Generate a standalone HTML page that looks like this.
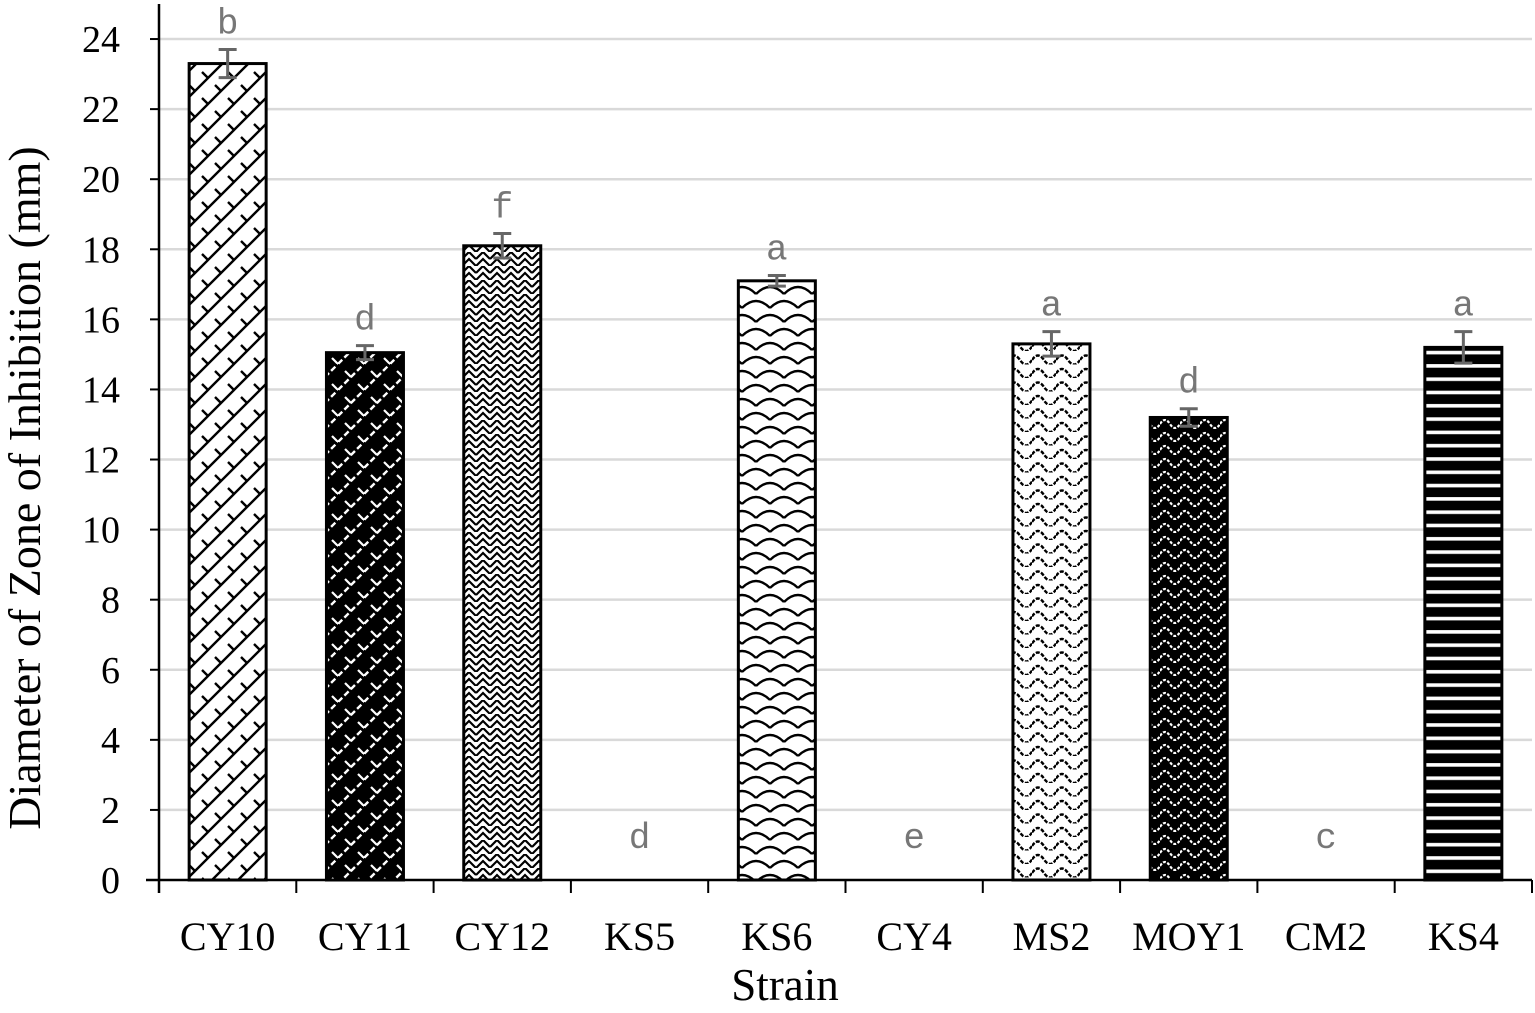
<!DOCTYPE html>
<html><head><meta charset="utf-8"><style>
html,body{margin:0;padding:0;background:#fff;}
svg{display:block;}
</style></head><body>
<svg id="chart" width="1535" height="1013" viewBox="0 0 1535 1013" xmlns="http://www.w3.org/2000/svg">
<defs>
<pattern id="p0" patternUnits="userSpaceOnUse" width="26" height="26">
<rect width="26" height="26" fill="#fff"/>
<path d="M0 26 L26 0 M-6 6 L6 -6 M20 32 L32 20" stroke="#000" stroke-width="2.4"/>
<path d="M7 7 L13 13 M20 20 L26 26" stroke="#000" stroke-width="2.4"/>
</pattern>
<pattern id="p1" patternUnits="userSpaceOnUse" width="26" height="26">
<rect width="26" height="26" fill="#000"/>
<path d="M0 26 L26 0 M-6 6 L6 -6 M20 32 L32 20" stroke="#fff" stroke-width="2.4" stroke-dasharray="6 3"/>
<path d="M7 7 L13 13 M20 20 L26 26" stroke="#fff" stroke-width="2.2"/>
</pattern>
<pattern id="p2" patternUnits="userSpaceOnUse" width="14" height="14">
<rect width="14" height="14" fill="#fff"/>
<path d="M0 7 L7 0 L14 7 M0 14 L7 7 L14 14" stroke="#000" stroke-width="2.2" fill="none"/>
</pattern>
<pattern id="p4" patternUnits="userSpaceOnUse" width="28" height="28">
<rect width="28" height="28" fill="#fff"/>
<path d="M0 14 Q14 0 28 14 M-14 28 Q0 14 14 28 M14 28 Q28 14 42 28 M-14 0 Q0 -14 14 0 M14 0 Q28 -14 42 0" stroke="#000" stroke-width="2.4" fill="none"/>
</pattern>
<pattern id="p6" patternUnits="userSpaceOnUse" width="24" height="13.5">
<rect width="24" height="13.5" fill="#fff"/>
<path d="M0 9 Q6 0 12 9 T24 9" stroke="#000" stroke-width="2.4" fill="none" stroke-dasharray="4 1.5"/>
</pattern>
<pattern id="p7" patternUnits="userSpaceOnUse" width="20" height="13">
<rect width="20" height="13" fill="#000"/>
<path d="M0 8 Q5 0 10 8 T20 8" stroke="#fff" stroke-width="2.2" fill="none" stroke-dasharray="3 1.5"/>
</pattern>
<pattern id="p9" patternUnits="userSpaceOnUse" width="24" height="13.3">
<rect width="24" height="13.3" fill="#000"/>
<rect y="5" width="24" height="3.6" fill="#fff"/>
</pattern>
</defs>
<g id="grid"></g>
<g id="bars"></g>
<g id="axes"></g>
<text x="785" y="1000" text-anchor="middle" font-family="Liberation Serif, serif" font-size="45">Strain</text>
<text transform="translate(40,488) rotate(-90)" text-anchor="middle" font-family="Liberation Serif, serif" font-size="46">Diameter of Zone of Inhibition (mm)</text>
</svg>
<script>
const categories = ["CY10","CY11","CY12","KS5","KS6","CY4","MS2","MOY1","CM2","KS4"];
const values = [23.3,15.05,18.1,0,17.1,0,15.3,13.2,0,15.2];
const errors = [0.4,0.2,0.35,0,0.15,0,0.35,0.25,0,0.45];
const letters = ["b","d","f","d","a","e","a","d","c","a"];
const patterns = ["p0","p1","p2","","p4","","p6","p7","","p9"];
const yTicks = [0,2,4,6,8,10,12,14,16,18,20,22,24];

const NS="http://www.w3.org/2000/svg";
const x0=159, x1=1532, yBase=880, pxPerUnit=35.04;
const bandW=(x1-x0)/categories.length, barW=77;
function yScale(v){return yBase - v*pxPerUnit;}
function xCenter(i){return x0 + bandW*(i+0.5);}
function mk(tag,attrs,parent){const e=document.createElementNS(NS,tag);for(const k in attrs)e.setAttribute(k,attrs[k]);parent.appendChild(e);return e;}
const grid=document.getElementById('grid'), bars=document.getElementById('bars'), axes=document.getElementById('axes');

yTicks.forEach(t=>{
  const y=yScale(t);
  if(t>0){const g=mk('line',{x1:x0,x2:x1,y1:y,y2:y,stroke:'#d9d9d9','stroke-width':2.5},grid);
  
  }
  const tk=mk('line',{x1:150,x2:x0,y1:y,y2:y,stroke:'#000','stroke-width':2},axes);
  
  
  const lb=mk('text',{x:120,y:y+13,'text-anchor':'end','font-family':'Liberation Serif, serif','font-size':38},axes);
  lb.textContent=t;
  
  
});

categories.forEach((c,i)=>{
  const cx=xCenter(i), v=values[i];
  if(v>0){
    const r=mk('rect',{x:cx-barW/2,y:yScale(v),width:barW,height:yBase-yScale(v),fill:'url(#'+patterns[i]+')',stroke:'#000','stroke-width':3},bars);
    
    
    const e=errors[i], yt=yScale(v+e), yb=yScale(v-e);
    const eb=mk('path',{d:`M${cx} ${yt} V${yb} M${cx-9} ${yt} H${cx+9} M${cx-9} ${yb} H${cx+9}`,stroke:'#666','stroke-width':3,fill:'none'},bars);
    
    
  }
  const ly = v>0 ? yScale(v+errors[i]) - 16 : yBase - 32;
  const lt=mk('text',{x:cx,y:ly,'text-anchor':'middle','font-family':'Liberation Mono, monospace','font-size':36,fill:'#777'},bars);
  lt.textContent=letters[i];
  
  
  const xl=mk('text',{x:cx,y:950,'text-anchor':'middle','font-family':'Liberation Serif, serif','font-size':40},axes);
  xl.textContent=c;
  
  
});
for(let i=0;i<=categories.length;i++){
  const x=x0+bandW*i;
  const t=mk('line',{x1:x,x2:x,y1:yBase,y2:893,stroke:'#000','stroke-width':2},axes);
  
  
}
const xa=mk('line',{x1:146,x2:x1,y1:yBase,y2:yBase,stroke:'#000','stroke-width':2.5},axes);


const ya=mk('line',{x1:x0,x2:x0,y1:4,y2:893,stroke:'#000','stroke-width':2.5},axes);


</script>
</body></html>
